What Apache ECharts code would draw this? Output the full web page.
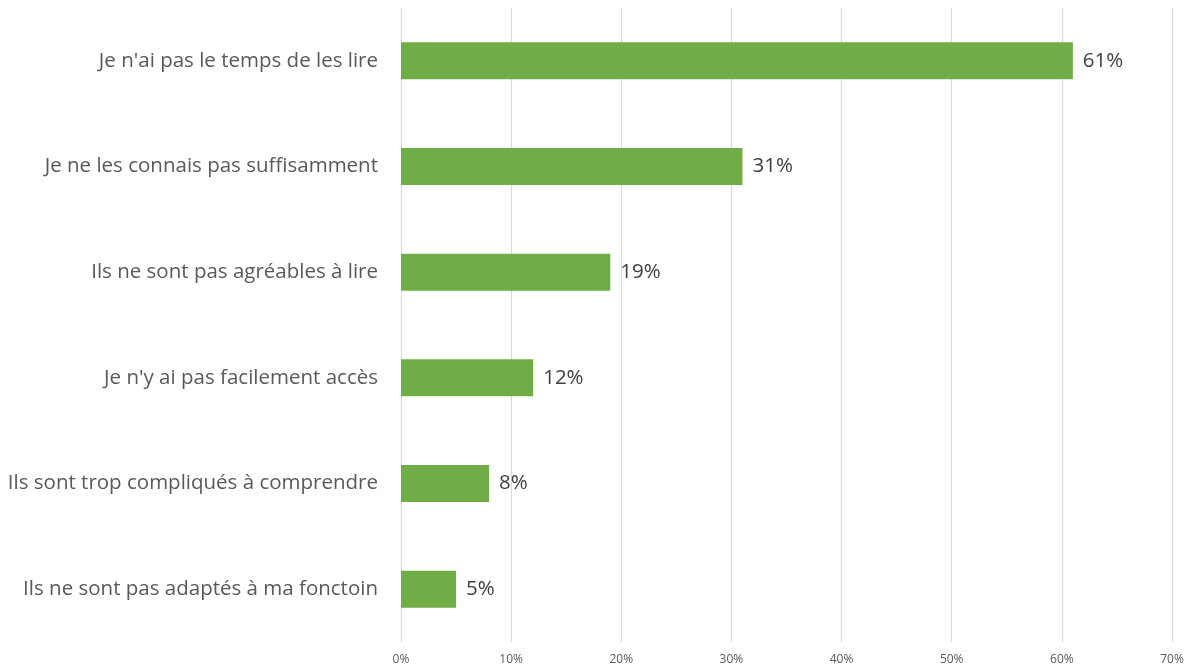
<!DOCTYPE html>
<html><head><meta charset="utf-8">
<script src="https://cdn.jsdelivr.net/npm/echarts@6/dist/echarts.min.js"></script>
<style>html,body{margin:0;padding:0;background:#fff}#c{width:1195px;height:671px}</style>
</head><body><div id="c"></div>
<script>
const categories = [
  "Je n'ai pas le temps de les lire",
  "Je ne les connais pas suffisamment",
  "Ils ne sont pas agréables à lire",
  "Je n'y ai pas facilement accès",
  "Ils sont trop compliqués à comprendre",
  "Ils ne sont pas adaptés à ma fonctoin"
];
const values = [61, 31, 19, 12, 8, 5];
const axisMin = 0, axisMax = 70, axisStep = 10;

const chart = echarts.init(document.getElementById('c'));
chart.setOption({
  animation: false,
  grid: { left: 401, right: 23, top: 8, bottom: 29, containLabel: false },
  xAxis: {
    type: 'value', min: axisMin, max: axisMax, interval: axisStep,
    axisLine: { show: false }, axisTick: { show: false },
    splitLine: { lineStyle: { color: '#d9d9d9', width: 1 } },
    axisLabel: { formatter: '{value}%', color: '#595959', fontSize: 12, fontFamily: 'Open Sans, Noto Sans, sans-serif', margin: 12 }
  },
  yAxis: {
    type: 'category', data: categories, inverse: true,
    axisLine: { show: false }, axisTick: { show: false },
    axisLabel: { color: '#595959', fontSize: 20.5, fontFamily: 'Open Sans, Noto Sans, sans-serif', margin: 23 }
  },
  series: [{
    type: 'bar', data: values, barCategoryGap: '65%',
    itemStyle: { color: '#70ad47' },
    label: { show: true, position: 'right', distance: 10, formatter: '{c}%', color: '#404040', fontSize: 20.5, fontFamily: 'Open Sans, Noto Sans, sans-serif' }
  }]
});
</script></body></html>
